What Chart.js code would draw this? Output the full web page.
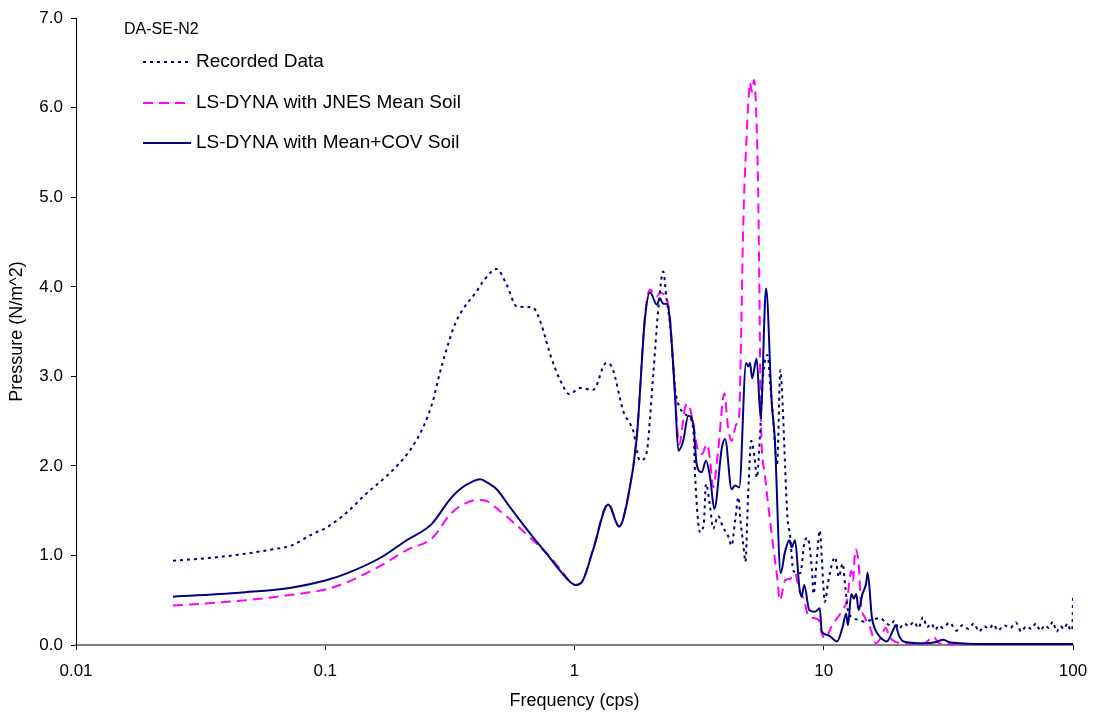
<!DOCTYPE html>
<html>
<head>
<meta charset="utf-8">
<script src="https://cdn.jsdelivr.net/npm/chart.js@4.4.1/dist/chart.umd.min.js"></script>
<style>
  html, body { margin: 0; padding: 0; background: #fff; }
  #wrap { width: 1094px; height: 719px; }
</style>
</head>
<body>
<div id="wrap"><canvas id="myChart" width="1094" height="719"></canvas></div>
<script>
// chart values
const chartLabel = 'DA-SE-N2';
const seriesNames = ['Recorded Data', 'LS-DYNA with JNES Mean Soil', 'LS-DYNA with Mean+COV Soil'];
const xTickValues = [0.01, 0.1, 1, 10, 100];
const xTickLabels = ['0.01', '0.1', '1', '10', '100'];

const recFreq = [0.0245, 0.0366, 0.048, 0.062, 0.073, 0.089, 0.101, 0.122, 0.146, 0.18, 0.218, 0.247, 0.27, 0.287, 0.305, 0.33, 0.363, 0.40, 0.43, 0.487, 0.535, 0.587, 0.68, 0.73, 0.80, 0.875, 0.955, 1.05, 1.19, 1.34, 1.42, 1.57, 1.72, 1.83, 1.94, 2.07, 2.17, 2.27, 2.34, 2.41, 2.48, 2.55, 2.89, 3.0, 3.05, 3.19, 3.3, 3.37, 3.5, 3.6, 3.77, 3.95, 4.13, 4.27, 4.41, 4.55, 4.62, 4.77, 4.85, 4.98, 5.12, 5.28, 5.39, 5.55, 5.7, 5.95, 6.1, 6.26, 6.5, 6.7, 6.85, 7.0, 7.15, 7.33, 7.55, 8.05, 8.35, 8.6, 8.97, 9.1, 9.35, 9.64, 9.82, 9.95, 10.1, 10.4, 10.8, 11.1, 11.5, 11.9, 12.2, 12.5, 13.0, 13.8, 14.6, 15.5, 16.8, 17.9, 18.5, 19.2, 20, 21, 22, 23, 24, 25, 26, 27, 28, 29, 30, 32, 34, 36, 38, 40, 42, 44, 46, 48, 50, 53, 56, 59, 62, 65, 68, 71, 74, 77, 80, 83, 86, 89, 92, 95, 98, 99.5, 100];
const recVals = [0.94, 0.98, 1.02, 1.07, 1.11, 1.24, 1.31, 1.48, 1.69, 1.91, 2.17, 2.43, 2.72, 3.02, 3.28, 3.57, 3.78, 3.93, 4.06, 4.20, 4.02, 3.78, 3.77, 3.61, 3.24, 2.96, 2.80, 2.87, 2.85, 3.15, 3.09, 2.61, 2.39, 2.06, 2.13, 3.02, 3.76, 4.17, 3.87, 3.61, 3.20, 2.80, 2.54, 2.39, 1.87, 1.26, 1.35, 1.80, 1.54, 1.30, 1.44, 1.31, 1.22, 1.11, 1.39, 1.65, 1.43, 1.09, 0.93, 1.72, 2.28, 2.09, 1.87, 2.35, 2.98, 3.24, 2.91, 2.54, 2.02, 3.07, 2.65, 1.98, 1.43, 1.22, 0.83, 0.80, 1.13, 1.20, 0.83, 0.57, 0.91, 1.28, 0.98, 0.69, 0.48, 0.69, 0.91, 0.98, 0.76, 0.91, 0.65, 0.39, 0.31, 0.28, 0.26, 0.28, 0.30, 0.24, 0.22, 0.27, 0.18, 0.24, 0.21, 0.26, 0.19, 0.31, 0.20, 0.24, 0.17, 0.22, 0.19, 0.25, 0.16, 0.22, 0.18, 0.24, 0.15, 0.21, 0.18, 0.23, 0.16, 0.22, 0.19, 0.25, 0.15, 0.21, 0.18, 0.24, 0.16, 0.22, 0.19, 0.26, 0.15, 0.21, 0.18, 0.24, 0.16, 0.20, 0.55];

const jnesFreq = [0.0245, 0.048, 0.073, 0.1, 0.122, 0.168, 0.212, 0.27, 0.317, 0.358, 0.404, 0.441, 0.5, 0.64, 0.8, 0.875, 1.01, 1.08, 1.19, 1.367, 1.51, 1.64, 1.777, 1.918, 2.01, 2.14, 2.2, 2.34, 2.41, 2.53, 2.63, 2.79, 2.86, 3.0, 3.13, 3.24, 3.4, 3.5, 3.6, 3.77, 3.99, 4.13, 4.27, 4.45, 4.58, 4.645, 4.757, 4.907, 5.027, 5.06, 5.15, 5.25, 5.38, 5.48, 5.55, 5.6, 5.8, 6.18, 6.5, 6.67, 6.99, 7.33, 7.67, 7.98, 8.35, 8.6, 9.1, 9.55, 9.82, 10.1, 10.8, 11.9, 12.4, 12.9, 13.1, 13.4, 13.8, 14.1, 14.6, 15.3, 16.2, 17.0, 17.7, 18.4, 19.2, 20.5, 25, 27.6, 29, 35, 50, 100];
const jnesVals = [0.44, 0.50, 0.56, 0.62, 0.70, 0.89, 1.06, 1.20, 1.46, 1.57, 1.62, 1.61, 1.50, 1.24, 0.98, 0.85, 0.67, 0.72, 1.08, 1.58, 1.33, 1.66, 2.33, 3.68, 3.97, 3.89, 3.93, 3.87, 3.69, 2.80, 2.24, 2.67, 2.69, 2.46, 2.17, 2.13, 2.24, 2.06, 1.76, 2.17, 2.81, 2.43, 2.28, 2.46, 2.57, 3.24, 4.72, 5.70, 6.22, 6.28, 6.18, 6.31, 5.80, 4.72, 3.24, 2.46, 1.91, 1.24, 0.76, 0.50, 0.72, 0.74, 0.80, 0.61, 0.50, 0.35, 0.30, 0.28, 0.13, 0.07, 0.22, 0.39, 0.50, 0.83, 0.72, 1.07, 0.91, 0.46, 0.31, 0.20, 0.02, 0.09, 0.19, 0.09, 0.04, 0.02, 0.01, 0.09, 0.02, 0.01, 0.01, 0.01];

const covFreq = [0.0245, 0.048, 0.073, 0.1, 0.122, 0.168, 0.212, 0.267, 0.317, 0.347, 0.393, 0.418, 0.437, 0.487, 0.551, 0.684, 0.773, 0.875, 1.01, 1.08, 1.19, 1.367, 1.51, 1.64, 1.777, 1.918, 2.01, 2.14, 2.2, 2.27, 2.34, 2.41, 2.53, 2.61, 2.73, 2.86, 3.0, 3.09, 3.24, 3.37, 3.5, 3.64, 3.9, 4.02, 4.27, 4.41, 4.58, 4.88, 4.98, 5.06, 5.16, 5.38, 5.58, 5.87, 6.18, 6.36, 6.72, 6.99, 7.28, 7.44, 7.67, 7.98, 8.15, 8.35, 8.75, 9.21, 9.64, 9.82, 10.4, 11.3, 11.9, 12.3, 12.5, 12.9, 13.2, 13.5, 13.8, 14.3, 14.8, 15.0, 15.6, 16.0, 16.8, 17.9, 19.0, 19.4, 20.0, 20.9, 25.1, 28, 30.2, 32, 35.2, 45, 60, 80, 100];
const covVals = [0.54, 0.59, 0.64, 0.72, 0.80, 0.98, 1.17, 1.35, 1.63, 1.74, 1.83, 1.85, 1.83, 1.74, 1.54, 1.20, 1.02, 0.83, 0.67, 0.72, 1.07, 1.57, 1.32, 1.65, 2.31, 3.65, 3.94, 3.80, 3.87, 3.81, 3.81, 3.65, 2.80, 2.17, 2.28, 2.56, 2.46, 2.02, 1.93, 2.06, 1.87, 1.52, 2.20, 2.30, 1.74, 1.78, 1.76, 3.15, 3.11, 3.15, 2.98, 3.20, 2.54, 3.98, 2.72, 2.31, 0.80, 1.04, 1.17, 1.09, 1.17, 0.65, 0.54, 0.67, 0.39, 0.37, 0.41, 0.15, 0.11, 0.04, 0.20, 0.35, 0.22, 0.57, 0.52, 0.57, 0.39, 0.57, 0.69, 0.81, 0.31, 0.19, 0.09, 0.04, 0.17, 0.22, 0.11, 0.04, 0.02, 0.03, 0.06, 0.03, 0.02, 0.01, 0.01, 0.01, 0.01];

const FONT = '"Liberation Sans", Arial, sans-serif';

function toPoints(xs, ys) {
    return xs.map(function (x, i) { return { x: x, y: ys[i] }; });
}

// legend + label drawn inside the plot, top left
const insideLegend = {
    id: 'insideLegend',
    afterDraw: function (chart) {
        const ctx = chart.ctx;
        ctx.save();
        ctx.fillStyle = '#000';
        ctx.textAlign = 'left';
        ctx.textBaseline = 'alphabetic';
        ctx.font = '16px ' + FONT;
        ctx.fillText(chartLabel, 124, 34);
        ctx.font = '19px ' + FONT;
        ctx.textBaseline = 'middle';
        const rows = [62, 103, 143];
        chart.data.datasets.forEach(function (ds, i) {
            const y = rows[i];
            ctx.strokeStyle = ds.borderColor;
            ctx.lineWidth = ds.borderWidth;
            ctx.setLineDash(ds.borderDash || []);
            ctx.beginPath();
            ctx.moveTo(143, y);
            ctx.lineTo(191, y);
            ctx.stroke();
            ctx.setLineDash([]);
            ctx.fillText(ds.label, 196, y);
        });
        ctx.restore();
    }
};

const ctx = document.getElementById('myChart').getContext('2d');
new Chart(ctx, {
    type: 'line',
    data: {
        datasets: [{
            label: seriesNames[0],
            data: toPoints(recFreq, recVals),
            borderColor: '#000080',
            borderWidth: 2,
            borderDash: [3, 4],
            order: 1
        }, {
            label: seriesNames[1],
            data: toPoints(jnesFreq, jnesVals),
            borderColor: '#FF00FF',
            borderWidth: 2,
            borderDash: [10, 6],
            order: 2
        }, {
            label: seriesNames[2],
            data: toPoints(covFreq, covVals),
            borderColor: '#000080',
            borderWidth: 2,
            order: 0
        }]
    },
    options: {
        responsive: false,
        animation: false,
        devicePixelRatio: 1,
        layout: {
            padding: { left: 0, right: 21, top: 15, bottom: 0 }
        },
        elements: {
            point: { radius: 0, hoverRadius: 0 },
            line: { fill: false, cubicInterpolationMode: 'monotone' }
        },
        plugins: {
            legend: { display: false },
            tooltip: { enabled: false }
        },
        scales: {
            x: {
                type: 'logarithmic',
                min: 0.01,
                max: 100,
                afterBuildTicks: function (scale) {
                    scale.ticks = xTickValues.map(function (v) { return { value: v }; });
                },
                afterFit: function (scale) {
                    scale.height = 74;
                    scale.paddingLeft = 0;
                    scale.paddingRight = 0;
                },
                border: { color: '#808080', width: 2 },
                grid: {
                    drawOnChartArea: false,
                    drawTicks: true,
                    tickLength: 5,
                    tickColor: '#000000'
                },
                ticks: {
                    color: '#000',
                    font: { family: FONT, size: 17 },
                    padding: 11,
                    maxRotation: 0,
                    autoSkip: false,
                    callback: function (value, index) {
                        return xTickLabels[index];
                    }
                },
                title: {
                    display: true,
                    text: 'Frequency (cps)',
                    color: '#000',
                    font: { family: FONT, size: 18 },
                    padding: { top: 0, bottom: 7 }
                }
            },
            y: {
                min: 0,
                max: 7,
                afterFit: function (scale) {
                    scale.width = 76;
                },
                border: { color: '#000', width: 1 },
                grid: {
                    drawOnChartArea: false,
                    drawTicks: true,
                    tickLength: 5,
                    tickColor: '#000'
                },
                ticks: {
                    stepSize: 1,
                    color: '#000',
                    font: { family: FONT, size: 17 },
                    padding: 8,
                    callback: function (value) {
                        return value.toFixed(1);
                    }
                },
                title: {
                    display: true,
                    text: 'Pressure (N/m^2)',
                    color: '#000',
                    font: { family: FONT, size: 18 },
                    padding: { top: 6, bottom: 0 }
                }
            }
        }
    },
    plugins: [insideLegend]
});
</script>
</body>
</html>
